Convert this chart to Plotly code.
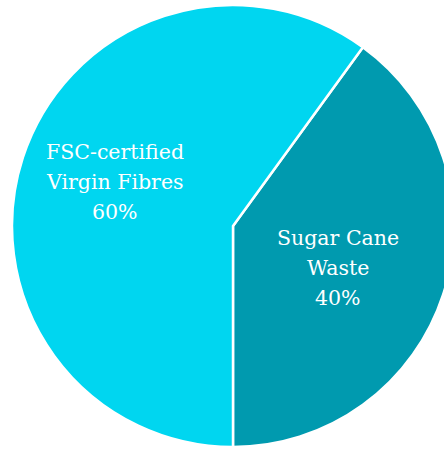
import math
import plotly.graph_objects as go

labels = ["Sugar Cane Waste", "FSC-certified Virgin Fibres"]
label_lines = [["Sugar Cane", "Waste"], ["FSC-certified", "Virgin Fibres"]]
values = [40, 60]
colors = ["#009aaf", "#00d6f0"]

W, H = 466, 450
CX, CY, R = 233, 226, 221
ROTATION = 36
label_radius = [0.50, 0.57]
label_nudge = [(0, 8), (2, -5)]
LINE_GAP = 30

fig = go.Figure(go.Pie(
    labels=labels,
    values=values,
    sort=False,
    direction="clockwise",
    rotation=ROTATION,
    marker=dict(colors=colors, line=dict(color="white", width=2.5)),
    textinfo="none",
    hoverinfo="label+percent",
    showlegend=False,
    domain=dict(x=[0, 1], y=[(H - CY - R) / H, (H - CY + R) / H]),
))

total = sum(values)
cum = 0
for i, v in enumerate(values):
    mid = ROTATION + (cum + v / 2) / total * 360
    cum += v
    a = math.radians(mid)
    px = CX + label_radius[i] * R * math.sin(a) + label_nudge[i][0]
    py = CY - label_radius[i] * R * math.cos(a) + label_nudge[i][1]
    lines = label_lines[i] + [f"{round(v / total * 100)}%"]
    n = len(lines)
    for j, t in enumerate(lines):
        ly = py + (j - (n - 1) / 2) * LINE_GAP
        fig.add_annotation(
            x=px / W, y=1 - ly / H, xref="paper", yref="paper",
            text=t, showarrow=False, xanchor="center", yanchor="middle",
            font=dict(family="DejaVu Serif", size=20.5, color="white"),
        )

fig.update_layout(
    width=W,
    height=H,
    margin=dict(l=0, r=0, t=0, b=0),
    paper_bgcolor="white",
    plot_bgcolor="white",
)

fig.write_html(
    "out.html",
    config={"displayModeBar": False},
    post_script="document.body.style.margin='0';document.body.style.overflow='hidden';",
)
